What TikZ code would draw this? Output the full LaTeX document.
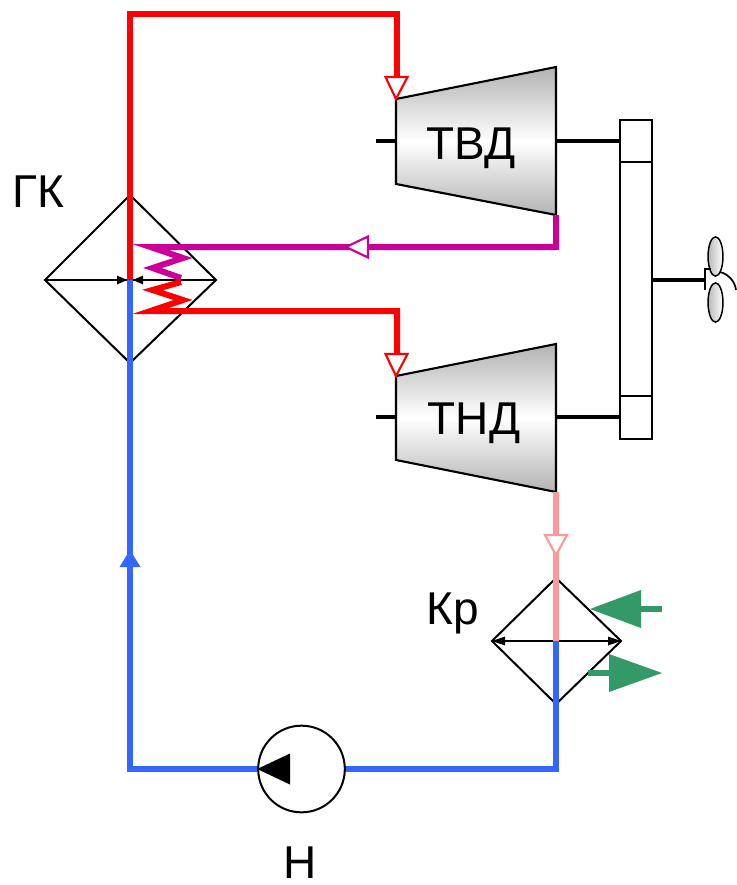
\documentclass[tikz,border=0pt]{standalone}
\usepackage{fontspec}
\usetikzlibrary{shapes.geometric}
\setmainfont{Liberation Sans}
\definecolor{pipered}{HTML}{FF0000}
\definecolor{pipeblue}{HTML}{3366FF}
\definecolor{pipepurple}{HTML}{CC0099}
\definecolor{pipepink}{HTML}{FF9999}
\definecolor{flowgreen}{HTML}{339966}
\tikzset{
  thinline/.style={draw=black,line width=1.5pt,line join=miter},
  shaft/.style={draw=black,line width=2.6pt},
  pipe/.style={line width=4.5pt,miter limit=25},
  hollowhead/.style={fill=white,line width=1.6pt,miter limit=10,line join=miter},
  turbine/.style={draw=black,line width=1.6pt},
  labeltext/.style={font=\fontsize{34.5pt}{36pt}\selectfont,inner sep=0pt,anchor=base},
  blade/.style={ellipse,draw=black,line width=1.1pt,left color=gray!55,right color=white,minimum width=11.2pt,minimum height=29.5pt,inner sep=0pt},
}
\begin{document}
\begin{tikzpicture}[x=0.75pt,y=-0.75pt]
\useasboundingbox[fill=white] (0,0) rectangle (737,885);

% ---- coordinates
\coordinate (gkT) at (130,195); \coordinate (gkR) at (216,280);
\coordinate (gkB) at (130,363); \coordinate (gkL) at (45,280);
\coordinate (gkC) at (130,280);
\coordinate (krT) at (556,578); \coordinate (krR) at (621,641);
\coordinate (krB) at (556,704); \coordinate (krL) at (492,641);
\coordinate (krC) at (556,641);
\coordinate (a1) at (396,99);  \coordinate (a2) at (556,67);
\coordinate (a3) at (556,215); \coordinate (a4) at (396,184);
\coordinate (b1) at (396,376); \coordinate (b2) at (556,344);
\coordinate (b3) at (556,492); \coordinate (b4) at (396,460);
\coordinate (c1) at (130,769); \coordinate (c2) at (556,769);

% ---- heat exchanger outlines
\draw[thinline] (gkT) -- (gkR) -- (gkB) -- (gkL) -- cycle;
\draw[thinline] (krT) -- (krR) -- (krB) -- (krL) -- cycle;
\draw[line width=1.5pt] (gkL) -- (gkR);
\draw[line width=1.5pt] (krL) -- (krR);

% ---- turbines
\shade[top color=gray!60,bottom color=gray!60,middle color=white] (a1) -- (a2) -- (a3) -- (a4) -- cycle;
\draw[turbine] (a1) -- (a2) -- (a3) -- (a4) -- cycle;
\shade[top color=gray!60,bottom color=gray!60,middle color=white] (b1) -- (b2) -- (b3) -- (b4) -- cycle;
\draw[turbine] (b1) -- (b2) -- (b3) -- (b4) -- cycle;
\node[labeltext] (tvd) at (471,159) {ТВД};
\node[labeltext] (tnd) at (474,434) {ТНД};

% ---- shafts and gearbox
\node[draw=black,line width=2pt,fill=white,minimum width=24pt,minimum height=239.25pt,inner sep=0pt] (gear) at (636,279.5) {};
\draw[line width=1.4pt] (gear.west |- 0,162) -- (gear.east |- 0,162);
\draw[line width=1.4pt] (gear.west |- 0,396) -- (gear.east |- 0,396);
\coordinate (s1) at (376,141); \coordinate (s2) at (396,141);
\coordinate (s3) at (556,141); \coordinate (s4) at (620,141);
\coordinate (s5) at (376,417); \coordinate (s6) at (396,417);
\coordinate (s7) at (556,417); \coordinate (s8) at (620,417);
\draw[shaft] (s1) -- (s2); \draw[shaft] (s3) -- (s4);
\draw[shaft] (s5) -- (s6); \draw[shaft] (s7) -- (s8);

% ---- propeller
\coordinate (p0) at (652,280); \coordinate (p1) at (705,280);
\draw[shaft] (p0) -- (p1);
\node[blade] (bladeA) at (715.5,256.5) {};
\node[blade] (bladeB) at (715.5,302.5) {};
\draw[line width=1.3pt] (705,290) -- (705,269) -- (711,269);
\draw[line width=1.3pt] (720,272) .. controls (728,274) and (735,281) .. (736,290);

% ---- working-fluid lines
\draw[pipe,pipeblue] (gkC) -- (c1) -- (c2) -- (krC);
\draw[pipe,pipepink] (b3) -- (krC);
\draw[pipe,pipered] (gkC) -- (130,14) -- (397,14) -- (397,77);
\draw[pipe,pipepurple] (a3) -- (556,247) -- (150.5,247) -- (183,258) -- (152.5,268) -- (181,278);
\draw[pipe,pipered] (397,353) -- (397,311) -- (150.5,311) -- (183,300) -- (152.5,290) -- (181,282);

% ---- flow arrowheads
\draw[hollowhead,draw=pipered] (396,99) -- (385.5,77) -- (407.5,77) -- cycle;
\draw[hollowhead,draw=pipered] (396,376) -- (385.5,354) -- (407.5,354) -- cycle;
\draw[hollowhead,draw=pipepurple] (346,247) -- (368,236.5) -- (368,257.5) -- cycle;
\draw[hollowhead,draw=pipepink] (556,555) -- (545,535) -- (567,535) -- cycle;
\fill[pipeblue] (130,550) -- (140.5,567) -- (119.5,567) -- cycle;

% ---- small black tips on the exchanger rods
\fill[black] (127,280) -- (117,275.5) -- (117,284.5) -- cycle;
\fill[black] (133,280) -- (143,275.5) -- (143,284.5) -- cycle;
\fill[black] (492,641) -- (505,636.5) -- (505,645.5) -- cycle;
\fill[black] (621,641) -- (608,636.5) -- (608,645.5) -- cycle;

% ---- pump
\node[circle,draw=black,line width=1.5pt,fill=white,minimum size=65pt,inner sep=0pt] (pump) at (301.5,769) {};
\fill[black] (pump.west) -- (290,753.5) -- (290,784.5) -- cycle;

% ---- cooling water arrows
\coordinate (g1) at (662,609); \coordinate (g2) at (635,609);
\coordinate (g3) at (588,673); \coordinate (g4) at (615,673);
\draw[line width=4.5pt,flowgreen] (g1) -- (g2);
\fill[flowgreen] (590,609) -- (641,590) -- (641,628) -- cycle;
\draw[line width=4.5pt,flowgreen] (g3) -- (g4);
\fill[flowgreen] (662,673) -- (609,654) -- (609,692) -- cycle;

% ---- labels
\node[labeltext] (gk) at (38,207) {ГК};
\node[labeltext] (kr) at (453,624) {Кр};
\node[labeltext] (n) at (300,878) {Н};
\end{tikzpicture}
\end{document}
